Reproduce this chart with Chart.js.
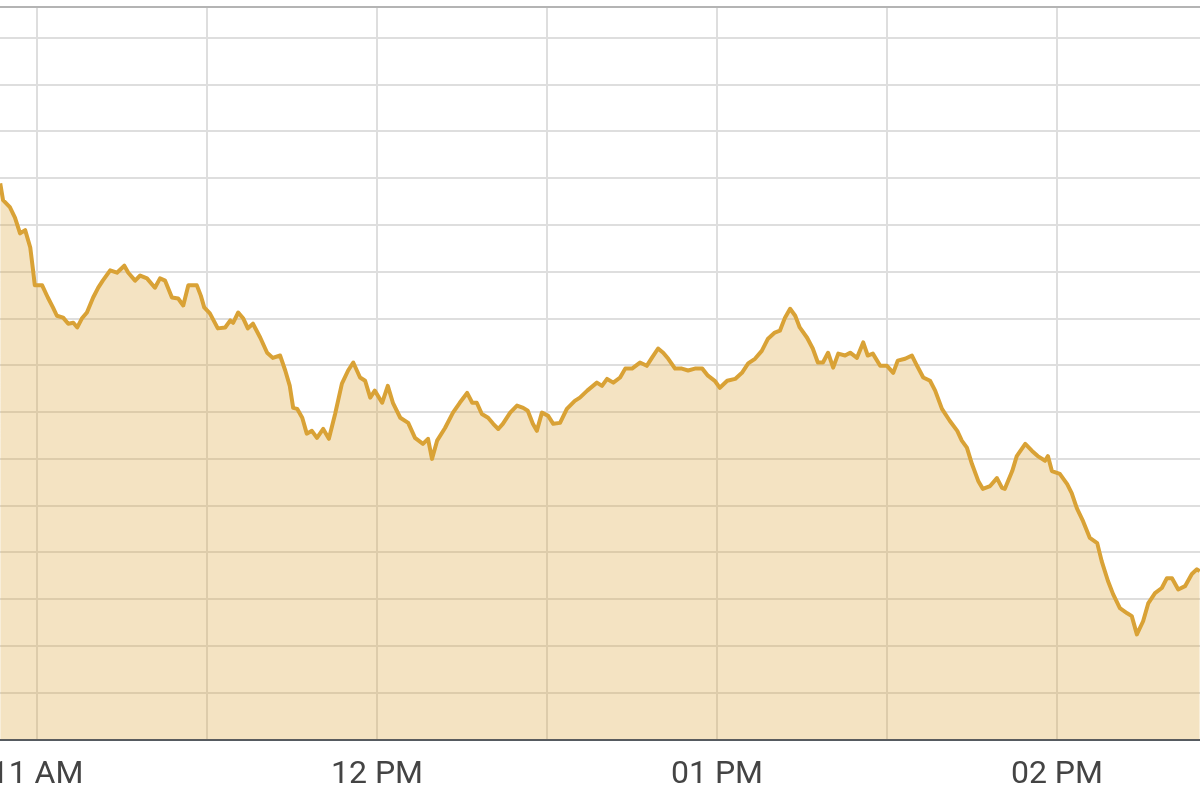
<!DOCTYPE html>
<html>
<head>
<meta charset="utf-8">
<script src="https://cdn.jsdelivr.net/npm/chart.js@4.4.1/dist/chart.umd.min.js"></script>
<style>
  html, body { margin: 0; padding: 0; background: #fff; overflow: hidden; }
  /* the source picture is a crop: the plot runs past the left edge */
  #wrap { position: absolute; left: -40px; top: 0; width: 1240px; height: 810px; }
</style>
</head>
<body>
<div id="wrap"><canvas id="chart"></canvas></div>
<script>
// Session start (minutes after midnight) and visible window
const sessionStart = 660;          // 11:00
const xMin = 646.4;
const xMax = 865.24;

// Tick labels on the hour
const hourTicks = [660, 720, 780, 840];
const hourLabels = ['11 AM', '12 PM', '01 PM', '02 PM'];

// Price path (minutes after 11:00 / value in grid units)
const minutes = [
  -6.5, -6.0, -4.8, -3.9, -3.0, -2.1, -1.2, -0.7, -0.4, 0.9,
  1.9, 2.8, 3.5, 4.6, 5.5, 6.4, 7.1, 7.9, 8.8, 9.9,
  10.8, 11.6, 12.9, 14.1, 15.4, 16.1, 17.3, 18.2, 19.4, 20.8,
  21.7, 22.6, 23.8, 24.9, 25.8, 26.7, 28.2, 28.9, 29.5, 30.5,
  31.9, 33.2, 34.1, 34.6, 35.5, 36.4, 37.2, 38.1, 39.4, 40.6,
  41.6, 42.9, 43.8, 44.6, 45.2, 45.9, 46.8, 47.6, 48.5, 49.4,
  50.5, 51.5, 52.6, 53.8, 54.9, 55.8, 57.0, 57.9, 58.8, 59.6,
  60.9, 61.9, 62.8, 64.1, 65.5, 66.7, 68.1, 69.0, 69.7, 70.6,
  72.0, 73.4, 74.6, 75.9, 76.8, 77.6, 78.5, 79.6, 80.5, 81.4,
  82.2, 83.5, 84.7, 85.8, 86.6, 87.5, 88.2, 89.1, 90.2, 91.1,
  92.3, 93.5, 94.9, 95.8, 97.1, 98.8, 99.7, 100.6, 101.7, 102.9,
  103.8, 105.0, 106.4, 107.6, 108.5, 109.6, 110.5, 111.4, 112.6, 113.8,
  114.9, 116.1, 117.4, 118.4, 119.6, 120.5, 121.8, 123.2, 124.4, 125.5,
  126.7, 127.9, 129.0, 130.2, 131.1, 132.0, 132.9, 133.8, 134.6, 135.9,
  136.9, 137.8, 138.7, 139.6, 140.5, 141.4, 142.6, 143.5, 144.7, 145.8,
  146.6, 147.5, 148.8, 150.0, 151.1, 151.9, 153.2, 154.4, 155.3, 156.4,
  157.6, 158.5, 159.7, 161.1, 162.4, 163.2, 164.1, 165.0, 166.1, 166.9,
  168.2, 169.4, 170.3, 170.8, 172.1, 172.9, 174.4, 175.6, 176.6, 177.9,
  178.4, 179.1, 180.5, 181.8, 182.6, 183.5, 184.6, 185.8, 187.1, 187.9,
  189.0, 189.9, 191.1, 192.4, 193.2, 194.1, 195.2, 196.1, 197.3, 198.5,
  199.4, 200.3, 201.4, 202.6, 203.8, 204.7, 205.2
];
const values = [
  11.89, 11.53, 11.38, 11.16, 10.82, 10.89, 10.52, 10.03, 9.71, 9.71,
  9.45, 9.24, 9.06, 9.02, 8.89, 8.91, 8.81, 9.00, 9.13, 9.45,
  9.66, 9.81, 10.03, 9.98, 10.13, 9.98, 9.81, 9.92, 9.86, 9.66,
  9.86, 9.81, 9.45, 9.43, 9.28, 9.71, 9.71, 9.49, 9.24, 9.11,
  8.79, 8.81, 8.96, 8.91, 9.13, 9.00, 8.79, 8.89, 8.59, 8.27,
  8.16, 8.21, 7.89, 7.56, 7.09, 7.07, 6.88, 6.54, 6.60, 6.45,
  6.64, 6.43, 6.96, 7.61, 7.89, 8.06, 7.74, 7.67, 7.31, 7.46,
  7.20, 7.56, 7.20, 6.88, 6.77, 6.45, 6.32, 6.43, 6.00, 6.39,
  6.66, 6.99, 7.20, 7.41, 7.20, 7.20, 6.96, 6.88, 6.75, 6.64,
  6.75, 6.99, 7.14, 7.09, 7.03, 6.75, 6.60, 6.99, 6.92, 6.75,
  6.77, 7.07, 7.24, 7.31, 7.46, 7.63, 7.56, 7.71, 7.63, 7.74,
  7.93, 7.93, 8.06, 7.99, 8.16, 8.36, 8.27, 8.14, 7.93, 7.93,
  7.89, 7.93, 7.93, 7.78, 7.67, 7.52, 7.67, 7.71, 7.84, 8.04,
  8.14, 8.31, 8.57, 8.70, 8.74, 9.02, 9.21, 9.06, 8.81, 8.59,
  8.36, 8.06, 8.06, 8.27, 7.95, 8.25, 8.21, 8.27, 8.16, 8.49,
  8.21, 8.25, 7.99, 7.99, 7.84, 8.10, 8.14, 8.21, 7.99, 7.74,
  7.67, 7.46, 7.07, 6.81, 6.60, 6.39, 6.24, 5.89, 5.53, 5.36,
  5.42, 5.59, 5.38, 5.36, 5.74, 6.06, 6.32, 6.17, 6.06, 5.96,
  6.06, 5.74, 5.68, 5.46, 5.27, 4.95, 4.67, 4.31, 4.20, 3.81,
  3.39, 3.11, 2.81, 2.70, 2.64, 2.25, 2.53, 2.91, 3.13, 3.24,
  3.45, 3.45, 3.21, 3.28, 3.54, 3.64, 3.60
];

const yMin = 0;
const yMax = 15.66;

const colors = {
  line: '#d9a236',
  fill: 'rgba(217, 162, 54, 0.3)',
  grid: '#dedede',
  topBorder: '#b4b4b4',
  axis: '#555a60',
  label: '#444444'
};

const points = minutes.map((m, i) => ({ x: sessionStart + m, y: values[i] }));

new Chart(document.getElementById('chart'), {
  type: 'line',
  data: {
    datasets: [{
      data: points,
      borderColor: colors.line,
      backgroundColor: colors.fill,
      borderWidth: 4,
      borderJoinStyle: 'round',
      fill: 'start',
      tension: 0,
      pointRadius: 0,
      pointHoverRadius: 0
    }]
  },
  options: {
    responsive: true,
    maintainAspectRatio: false,
    animation: false,
    layout: { padding: { top: 7, bottom: 0, left: 0, right: 0 } },
    plugins: {
      legend: { display: false },
      tooltip: { enabled: false }
    },
    scales: {
      x: {
        type: 'linear',
        min: xMin,
        max: xMax,
        grid: { color: colors.grid, lineWidth: 2, drawTicks: false },
        border: { display: true, color: colors.axis, width: 2 },
        ticks: {
          stepSize: 30,
          includeBounds: false,
          autoSkip: false,
          maxRotation: 0,
          padding: 16,
          color: colors.label,
          font: { family: 'Roboto', size: 32 },
          callback: v => {
            const i = hourTicks.indexOf(v);
            return i >= 0 ? hourLabels[i] : '';
          }
        }
      },
      y: {
        min: yMin,
        max: yMax,
        grid: {
          lineWidth: 2,
          drawTicks: false,
          color: ctx => ctx.tick && ctx.tick.value === yMax ? colors.topBorder : colors.grid
        },
        border: { display: false },
        ticks: { display: false, stepSize: 1 }
      }
    }
  }
});
</script>
</body>
</html>
